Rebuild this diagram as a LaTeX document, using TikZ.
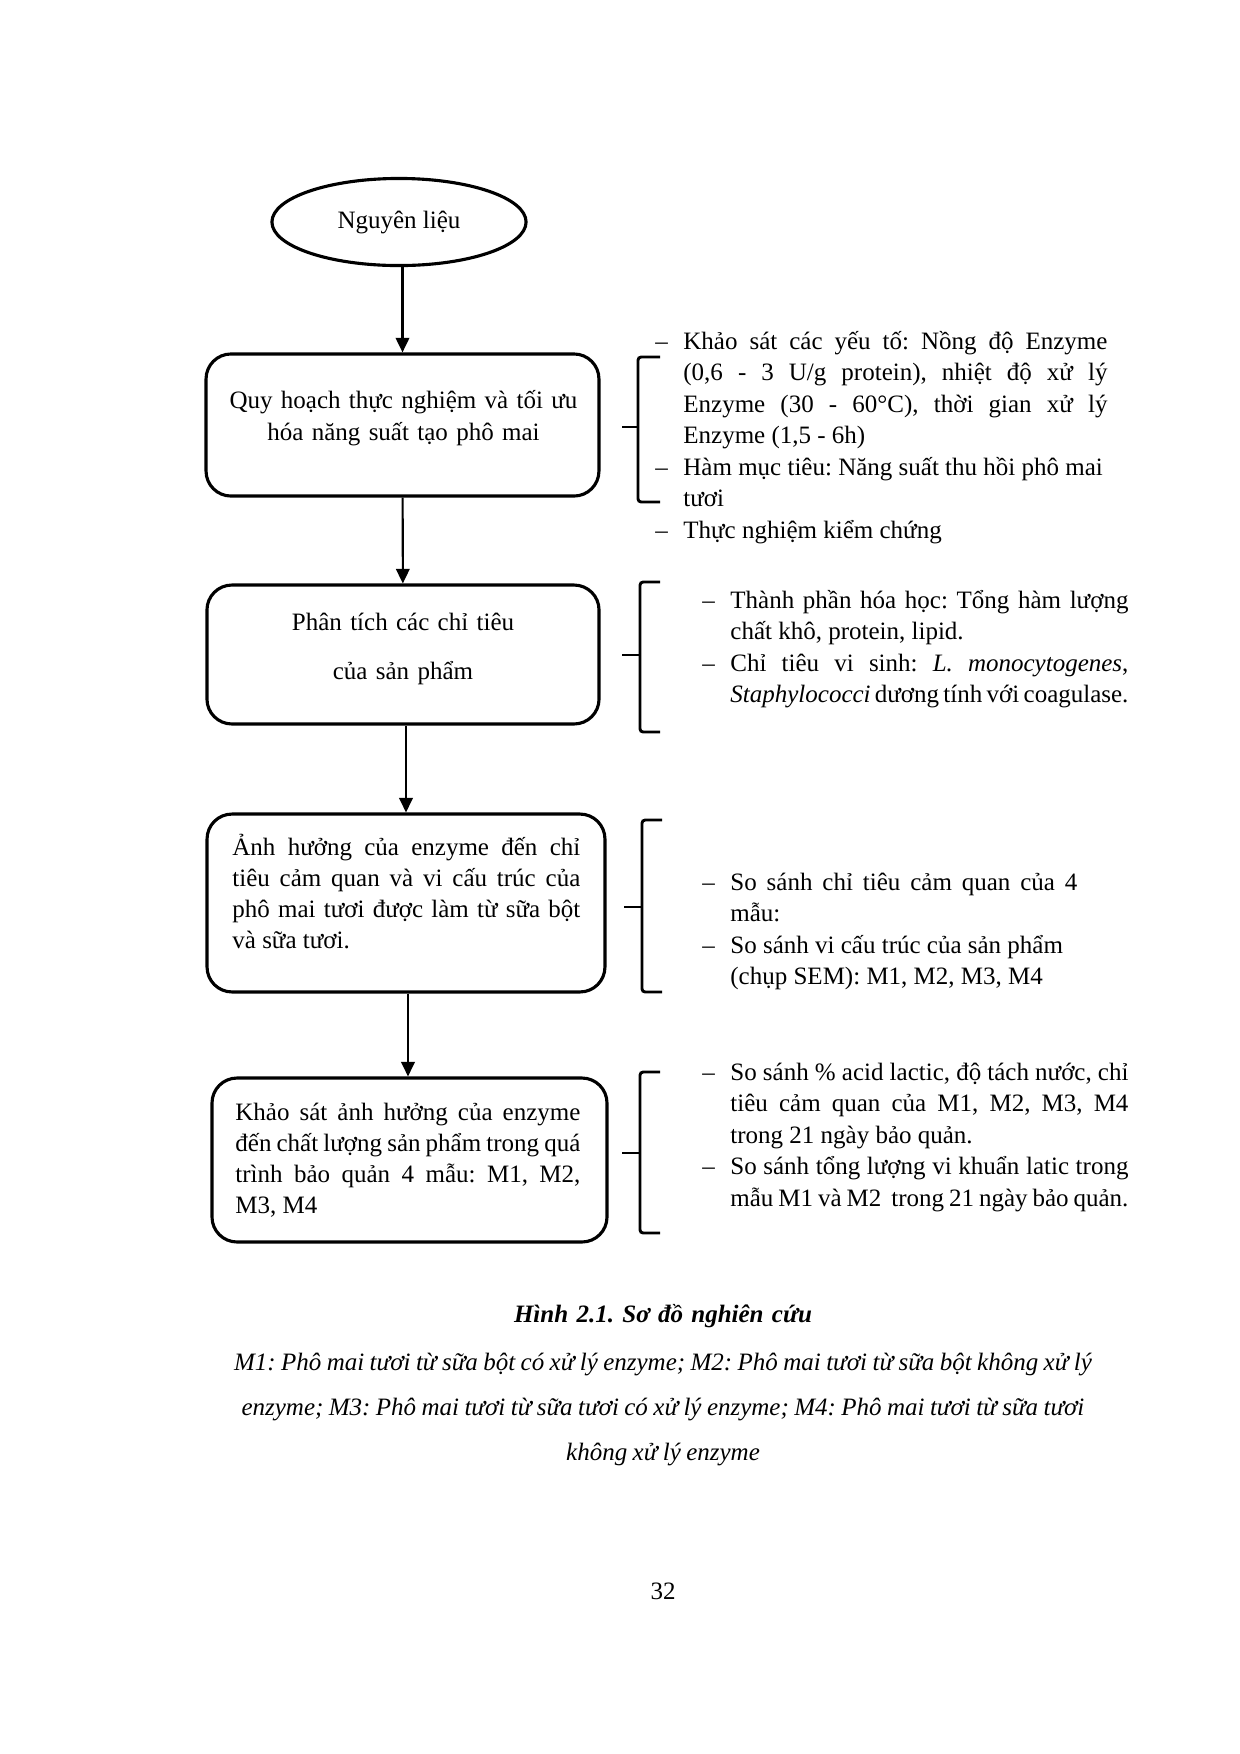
\documentclass[tikz,border=0pt]{standalone}
\usepackage{fontspec}
\setmainfont{Liberation Serif}
\usetikzlibrary{shapes.geometric,arrows.meta}
\hyphenpenalty=10000
\exhyphenpenalty=10000
\hbadness=10000
\frenchspacing
\tikzset{
  stepbox/.style={draw, line width=1.5pt, rounded corners=12pt, inner sep=0pt},
  startnode/.style={draw, ellipse, line width=1.5pt, inner sep=0pt,
    minimum width=122pt, minimum height=41.8pt, font=\fontsize{12}{14}\selectfont},
  flowarrow/.style={line width=1pt, -{Triangle[length=7pt,width=6.5pt]}},
  brace/.style={line width=1.4pt, rounded corners=1.5pt},
  boxtext/.style={inner sep=0pt, anchor=base, align=center, text width=190pt, font=\fontsize{12}{15.2}\selectfont},
  boxpar/.style={inner sep=0pt, anchor=base west, align=justify, font=\fontsize{12}{14.9}\selectfont},
  sidetext/.style={inner sep=0pt, anchor=base west, align=justify, font=\fontsize{12}{15.1}\selectfont},
  captext/.style={inner sep=0pt, anchor=base, align=center, text width=480pt},
}
\newcommand\bitem[1]{\noindent\hangindent=13.44pt\hangafter=1\makebox[13.44pt][l]{–}#1\par}
\begin{document}
\begin{tikzpicture}[x=0.48pt,y=-0.48pt]
\useasboundingbox (0,0) rectangle (1240,1754);
\fill[white] (0,0) rectangle (1240,1754);

% start
\node[startnode] (e) at (399,222) {Nguyên liệu};

% boxes
\node[stepbox, minimum width=188.6pt, minimum height=68.2pt] (b1) at (402.5,425) {};
\node[stepbox, minimum width=188.2pt, minimum height=66.7pt] (b2) at (403,654.5) {};
\node[stepbox, minimum width=191pt, minimum height=85.4pt] (b3) at (406,903) {};
\node[stepbox, minimum width=189.6pt, minimum height=78.7pt] (b4) at (409.5,1160) {};

% box texts
\node[boxtext] (t1) at (403.5,408.5) {Quy hoạch thực nghiệm và tối ưu\\hóa năng suất tạo phô mai};
\node[boxtext, font=\fontsize{12}{23.6}\selectfont] (t2) at (403,630) {Phân tích các chỉ tiêu\\của sản phẩm};
\node[boxpar, text width=167pt] (t3) at (232,855.5) {Ảnh hưởng của enzyme đến chỉ\linebreak tiêu cảm quan và vi cấu trúc của\linebreak phô mai tươi được làm từ sữa bột\linebreak và sữa tươi.};
\node[boxpar, text width=165.6pt] (t4) at (235,1120) {Khảo sát ảnh hưởng của enzyme\linebreak đến chất lượng sản phẩm trong quá\linebreak trình bảo quản 4 mẫu: M1, M2,\linebreak M3, M4};

% arrows
\draw[flowarrow] (e.south -| b1.north) -- (b1.north);
\draw[flowarrow] (b1) -- (b2);
\draw[flowarrow] (b2.south -| b3.north) -- (b3.north);
\draw[flowarrow] (b3.south -| 408,0) -- (b4.north -| 408,0);

% side texts
\node[sidetext, text width=217pt] (r1) at (655,349.5) {%
\bitem{Khảo sát các yếu tố: Nồng độ Enzyme\linebreak (0,6 - 3 U/g protein), nhiệt độ xử lý\linebreak Enzyme (30 - 60°C), thời gian xử lý\linebreak Enzyme (1,5 - 6h)}%
\bitem{Hàm mục tiêu: Năng suất thu hồi phô mai\newline tươi}%
\bitem{Thực nghiệm kiểm chứng}};

\node[sidetext, text width=204.5pt] (r2) at (702,608.5) {%
\bitem{Thành phần hóa học: Tổng hàm lượng\linebreak chất khô, protein, lipid.}%
\bitem{Chỉ tiêu vi sinh: \textit{L. monocytogenes},\linebreak \textit{Staphylococci} dương tính với coagulase.}};

\node[sidetext, text width=180pt] (r3) at (702,890.5) {%
\bitem{So sánh chỉ tiêu cảm quan của 4\linebreak mẫu:}%
\bitem{So sánh vi cấu trúc của sản phẩm\newline (chụp SEM): M1, M2, M3, M4}};

\node[sidetext, text width=204.5pt] (r4) at (702,1080.5) {%
\bitem{So sánh \% acid lactic, độ tách nước, chỉ\linebreak tiêu cảm quan của M1, M2, M3, M4\linebreak trong 21 ngày bảo quản.}%
\bitem{So sánh tổng lượng vi khuẩn latic trong\linebreak mẫu M1 và M2\ \ trong 21 ngày bảo quản.}};

% brackets
\draw[brace] (660,357) -- (638,357) -- (638,502) -- (660,502);
\draw[brace] (638,427) -- (622,427);
\draw[brace] (660,582) -- (640,582) -- (640,732) -- (660,732);
\draw[brace] (640,655) -- (622,655);
\draw[brace] (662,820) -- (642,820) -- (642,992) -- (662,992);
\draw[brace] (642,907) -- (624,907);
\draw[brace] (660,1072) -- (640,1072) -- (640,1233) -- (660,1233);
\draw[brace] (640,1153) -- (622,1153);

% caption
\node[captext, font=\fontsize{12}{15}\selectfont\bfseries\itshape] (cap) at (663,1322.5) {Hình 2.1. Sơ đồ nghiên cứu};
\node[captext, font=\fontsize{12}{21.6}\selectfont\itshape] (legend) at (663,1370.5) {\spaceskip=2.6pt\relax M1: Phô mai tươi từ sữa bột có xử lý enzyme; M2: Phô mai tươi từ sữa bột không xử lý\\enzyme; M3: Phô mai tươi từ sữa tươi có xử lý enzyme; M4: Phô mai tươi từ sữa tươi\\không xử lý enzyme};
\node[captext, font=\fontsize{12}{15}\selectfont] (page) at (663,1599.5) {32};
\end{tikzpicture}
\end{document}
